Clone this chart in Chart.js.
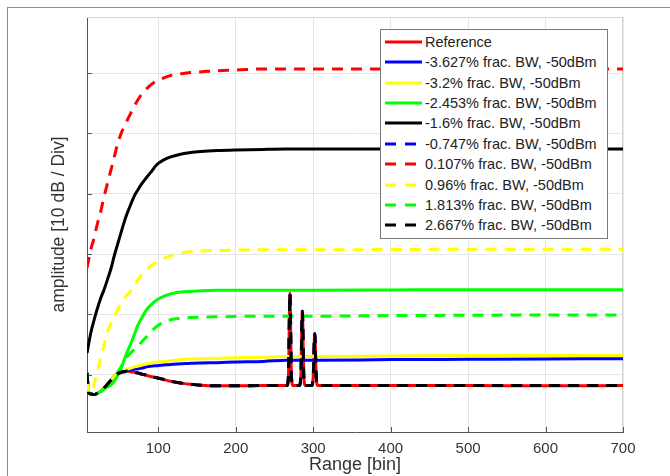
<!DOCTYPE html>
<html>
<head>
<meta charset="utf-8">
<script src="https://cdn.jsdelivr.net/npm/chart.js@4"></script>
<style>
  html, body { margin: 0; padding: 0; background: #fff; }
  #wrap { position: relative; width: 670px; height: 476px; overflow: hidden; }
  #frame { position: absolute; left: 7px; top: 7px; width: 800px; height: 600px; border: 1px solid #8c8c8c; }
  #chart { position: absolute; left: 0; top: 0; }
  #legend {
    position: absolute; left: 380px; top: 29px; width: 226px; height: 208px;
    background: #fff; border: 1px solid #7a7a7a;
    font: 14.5px "Liberation Sans", Arial, sans-serif; color: #222;
  }
  .row { position: absolute; left: 0; height: 20px; display: flex; align-items: center; white-space: nowrap; }
  .row svg { margin-left: 4px; margin-right: 3px; }
</style>
</head>
<body>
<div id="wrap">
  <div id="frame"></div>
  <canvas id="chart" width="670" height="476"></canvas>
  <div id="legend"></div>
</div>
<script>
// ===============================
// DATA
// ===============================
const bins = [8, 10, 13, 17, 21, 26, 30, 35, 39, 43, 47, 52, 56, 60, 65, 69, 73, 79, 85, 90,
  98, 107, 116, 130, 142, 155, 176, 200, 236, 266, 268, 270, 272, 274, 282, 284, 286, 288, 290,
  298, 300, 302, 304, 306, 400, 500, 600, 700];

const xTicks = [100, 200, 300, 400, 500, 600, 700];
const yGrid = [10, 20, 30, 40, 50, 60];

const labels = [
  "Reference",
  "-3.627% frac. BW, -50dBm",
  "-3.2% frac. BW, -50dBm",
  "-2.453% frac. BW, -50dBm",
  "-1.6% frac. BW, -50dBm",
  "-0.747% frac. BW, -50dBm",
  "0.107% frac. BW, -50dBm",
  "0.96% frac. BW, -50dBm",
  "1.813% frac. BW, -50dBm",
  "2.667% frac. BW, -50dBm"
];
const colors = ["#ff0000", "#0000ff", "#ffff00", "#00ff00", "#000000",
  "#0000ff", "#ff0000", "#ffff00", "#00ff00", "#000000"];
const dashed = [false, false, false, false, false, true, true, true, true, true];

// amplitude in dB (10 dB per division)
const reference = [10.3, 7.0, 6.8, 6.7, 6.9, 7.3, 7.8, 8.5, 9.1, 9.7, 10.1, 10.4, 10.5, 10.6, 10.5, 10.4, 10.3, 10.1, 9.9, 9.7,
  9.5, 9.2, 8.9, 8.6, 8.4, 8.25, 8.15, 8.15, 8.2, 8.2, 9.5, 23.5, 9.5, 8.2, 8.2, 9.5, 20.5, 9.5, 8.2,
  8.2, 9.5, 16.8, 9.5, 8.2, 8.2, 8.2, 8.15, 8.2];
const bw_m3627 = [10.3, 7.0, 6.8, 6.7, 6.9, 7.3, 7.8, 8.5, 9.1, 9.7, 10.1, 10.4, 10.6, 10.7, 10.8, 10.9, 11.0, 11.1, 11.3, 11.4,
  11.5, 11.6, 11.7, 11.8, 11.9, 11.95, 12.0, 12.1, 12.2, 12.4, 12.4, 12.4, 12.4, 12.4, 12.4, 12.4, 12.4, 12.4, 12.4,
  12.4, 12.4, 12.4, 12.4, 12.4, 12.5, 12.55, 12.6, 12.65];
const bw_m32 = [10.3, 7.0, 6.8, 6.7, 6.9, 7.3, 7.8, 8.5, 9.1, 9.7, 10.1, 10.5, 10.7, 10.9, 11.1, 11.3, 11.4, 11.6, 11.8, 11.9,
  12.1, 12.2, 12.3, 12.5, 12.6, 12.65, 12.7, 12.8, 12.9, 13.0, 13.0, 13.0, 13.0, 13.0, 13.0, 13.0, 13.0, 13.0, 13.0,
  13.0, 13.0, 13.0, 13.0, 13.0, 13.1, 13.2, 13.2, 13.2];
const bw_m2453 = [10.3, 7.2, 6.8, 6.7, 6.9, 7.2, 7.6, 8.0, 8.3, 8.9, 9.7, 11.0, 12.5, 13.8, 15.3, 16.6, 18.0, 19.5, 20.8, 21.5,
  22.4, 23.0, 23.4, 23.7, 23.8, 23.9, 24.0, 24.0, 24.0, 24.0, 24.0, 24.0, 24.0, 24.0, 24.0, 24.0, 24.0, 24.0, 24.0,
  24.0, 24.0, 24.0, 24.0, 24.0, 24.05, 24.1, 24.1, 24.1];
const bw_m16 = [13.6, 15.0, 17.0, 19.0, 20.8, 22.8, 24.1, 26.0, 27.6, 29.6, 31.4, 33.6, 35.3, 36.8, 38.4, 39.6, 40.5, 41.7, 42.7, 43.5,
  44.8, 45.6, 46.1, 46.6, 46.85, 47.0, 47.15, 47.25, 47.35, 47.4, 47.4, 47.4, 47.4, 47.4, 47.4, 47.4, 47.4, 47.4, 47.4,
  47.4, 47.4, 47.4, 47.4, 47.4, 47.4, 47.4, 47.4, 47.4];
const bw_m0747 = [10.3, 7.0, 6.8, 6.7, 6.9, 7.3, 7.8, 8.5, 9.1, 9.7, 10.1, 10.4, 10.5, 10.6, 10.5, 10.4, 10.3, 10.1, 9.9, 9.7,
  9.5, 9.2, 8.9, 8.6, 8.4, 8.25, 8.15, 8.15, 8.2, 8.2, 9.5, 23.5, 9.5, 8.2, 8.2, 9.5, 20.5, 9.5, 8.2,
  8.2, 9.5, 16.8, 9.5, 8.2, 8.2, 8.2, 8.2, 8.2];
const bw_p0107 = [27.7, 29.0, 30.8, 32.6, 34.8, 37.2, 39.5, 42.0, 44.0, 46.0, 48.0, 50.0, 51.1, 52.2, 53.5, 54.5, 55.4, 56.6, 57.4, 58.0,
  58.7, 59.2, 59.6, 59.9, 60.1, 60.2, 60.4, 60.5, 60.7, 60.7, 60.7, 60.7, 60.7, 60.7, 60.7, 60.7, 60.7, 60.7, 60.7,
  60.7, 60.7, 60.7, 60.7, 60.7, 60.7, 60.7, 60.7, 60.7];
const bw_p096 = [9.0, 7.5, 7.0, 8.3, 10.2, 13.0, 15.0, 17.3, 18.5, 19.6, 20.6, 21.8, 22.6, 23.3, 24.0, 24.8, 25.6, 26.6, 27.4, 28.0,
  28.7, 29.3, 29.7, 30.2, 30.4, 30.5, 30.6, 30.65, 30.7, 30.7, 30.7, 30.7, 30.7, 30.7, 30.7, 30.7, 30.7, 30.7, 30.7,
  30.7, 30.7, 30.7, 30.7, 30.7, 30.75, 30.8, 30.8, 30.8];
const bw_p1813 = [10.3, 7.0, 6.8, 6.7, 6.9, 7.3, 7.8, 8.5, 9.1, 9.7, 10.3, 11.3, 12.2, 13.0, 13.7, 14.2, 14.6, 15.5, 16.3, 17.0,
  18.0, 18.7, 19.1, 19.35, 19.5, 19.55, 19.6, 19.65, 19.7, 19.7, 19.7, 19.7, 19.7, 19.7, 19.7, 19.7, 19.7, 19.7, 19.7,
  19.7, 19.7, 19.7, 19.7, 19.7, 19.8, 19.85, 19.9, 19.9];
const bw_p2667 = [10.3, 7.0, 6.8, 6.7, 6.9, 7.3, 7.8, 8.5, 9.1, 9.7, 10.1, 10.4, 10.5, 10.6, 10.5, 10.4, 10.3, 10.1, 9.9, 9.7,
  9.5, 9.2, 8.9, 8.6, 8.4, 8.25, 8.15, 8.15, 8.2, 8.2, 9.5, 23.5, 9.5, 8.2, 8.2, 9.5, 20.5, 9.5, 8.2,
  8.2, 9.5, 16.8, 9.5, 8.2, 8.2, 8.2, 8.2, 8.2];

const series = [reference, bw_m3627, bw_m32, bw_m2453, bw_m16, bw_m0747, bw_p0107, bw_p096, bw_p1813, bw_p2667];

// ===============================
// LEGEND (HTML)
// ===============================
function buildLegend() {
  const box = document.getElementById("legend");
  labels.forEach((txt, i) => {
    const row = document.createElement("div");
    row.className = "row";
    row.style.top = (1.7 + i * 20.4) + "px";
    const dash = dashed[i] ? ' stroke-dasharray="11 9"' : '';
    row.innerHTML = '<svg width="37" height="6"><line x1="0" y1="3" x2="37" y2="3" stroke="' +
      colors[i] + '" stroke-width="3"' + dash + '/></svg><span>' + txt + '</span>';
    box.appendChild(row);
  });
}

// ===============================
// AXIS DECORATION
// ===============================
const axisFrame = {
  id: "axisFrame",
  beforeDatasetsDraw(chart) {
    const { ctx, chartArea: a, scales: { x, y } } = chart;
    ctx.save();
    ctx.lineWidth = 1;
    ctx.strokeStyle = "#d4d4d4";
    ctx.beginPath();
    ctx.moveTo(a.left, a.top + 0.5); ctx.lineTo(a.right, a.top + 0.5);
    ctx.moveTo(a.right - 0.5, a.top); ctx.lineTo(a.right - 0.5, a.bottom);
    ctx.stroke();
    ctx.strokeStyle = "#555";
    ctx.beginPath();
    yGrid.forEach(v => {
      const p = Math.round(y.getPixelForValue(v)) + 0.5;
      ctx.moveTo(a.left, p); ctx.lineTo(a.left + 5, p);
    });
    xTicks.forEach(v => {
      const p = Math.round(x.getPixelForValue(v)) + 0.5;
      ctx.moveTo(p, a.bottom); ctx.lineTo(p, a.bottom - 5);
    });
    ctx.stroke();
    ctx.restore();
  }
};

// ===============================
// CHART
// ===============================
function drawChart() {
  const datasets = series.map((vals, i) => ({
    label: labels[i],
    data: bins.map((b, k) => ({ x: b, y: vals[k] })),
    borderColor: colors[i],
    borderWidth: 3,
    borderDash: dashed[i] ? [11, 8] : [],
    pointRadius: 0,
    fill: false,
    cubicInterpolationMode: "monotone",
    order: series.length - i
  }));

  new Chart(document.getElementById("chart"), {
    type: "line",
    data: { datasets },
    plugins: [axisFrame],
    options: {
      responsive: false,
      animation: false,
      layout: { padding: { left: 0, top: 17, right: 47, bottom: 0 } },
      plugins: { legend: { display: false }, tooltip: { enabled: false } },
      scales: {
        x: {
          type: "linear",
          min: 8,
          max: 700,
          afterBuildTicks: s => { s.ticks = xTicks.map(v => ({ value: v })); },
          afterFit: s => { s.height = 44; },
          grid: { color: "#e6e6e6", drawTicks: false },
          border: { display: true, color: "#555", width: 1 },
          ticks: { padding: 8, color: "#333", font: { family: "Liberation Sans", size: 15 } },
          title: {
            display: true, text: "Range [bin]", color: "#333",
            padding: { top: 0, bottom: 0 },
            font: { family: "Liberation Sans", size: 18 }
          }
        },
        y: {
          type: "linear",
          min: 0.5,
          max: 69.3,
          afterBuildTicks: s => { s.ticks = yGrid.map(v => ({ value: v })); },
          afterFit: s => { s.width = 87; },
          grid: { color: "#e6e6e6", drawTicks: false },
          border: { display: true, color: "#555", width: 1 },
          ticks: { display: false },
          title: {
            display: true, text: "amplitude [10 dB / Div]", color: "#333",
            padding: { top: 49, bottom: 0 },
            font: { family: "Liberation Sans", size: 17.5 }
          }
        }
      }
    }
  });
}

document.addEventListener("DOMContentLoaded", () => {
  buildLegend();
  drawChart();
});
</script>
</body>
</html>
